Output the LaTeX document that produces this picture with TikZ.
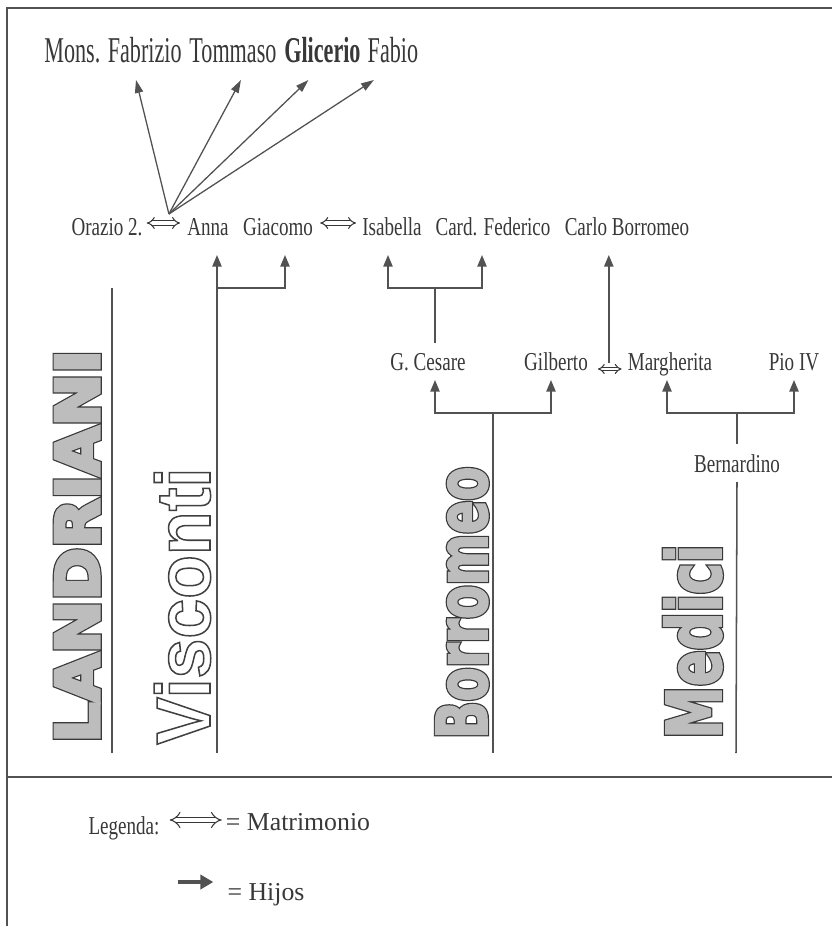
\documentclass[tikz,border=0pt]{standalone}
\usepackage{fontspec}
\setmainfont{Liberation Serif}
\newfontfamily\estrecha[FakeStretch=0.74]{Liberation Serif}
\newfontfamily\estrechaalta[FakeStretch=0.61]{Liberation Serif}
\newfontfamily\famancha[FakeStretch=1.06]{DejaVu Sans}
\newfontfamily\famestrecha[FakeStretch=0.70]{DejaVu Sans}
\newfontfamily\famhueca[FakeStretch=0.93]{Liberation Sans}
\usepackage{tikz}
\usetikzlibrary{arrows,arrows.meta,positioning,calc}

\definecolor{tinta}{gray}{0.22}
\definecolor{trazo}{gray}{0.32}

% letras de las familias: contorno oscuro y relleno gris, o solo contorno
\newcommand{\rayado}[1]{\rlap{\special{pdf:literal direct 0.22 G 3.4 w 1 Tr}#1\special{pdf:literal direct 0 Tr}}%
	\special{pdf:literal direct 0.74 g 0.74 G 1.3 w 2 Tr}#1\special{pdf:literal direct 0 Tr}}
\newcommand{\rayadogrueso}[1]{\rlap{\special{pdf:literal direct 0.22 G 5.0 w 1 Tr}#1\special{pdf:literal direct 0 Tr}}%
	\special{pdf:literal direct 0.74 g 0.74 G 2.9 w 2 Tr}#1\special{pdf:literal direct 0 Tr}}
\newcommand{\hueco}[1]{\special{pdf:literal direct 0.25 G 1.3 w 1 Tr}#1\special{pdf:literal direct 0 Tr}}

\tikzset{
	persona/.style={font=\estrecha\fontsize{22}{24}\selectfont, text=tinta, inner sep=0pt, text depth=0pt, anchor=base, outer ysep=#1},
	persona/.default=3mm,
	arriba/.style={persona=5.4mm, font=\estrechaalta\fontsize{31}{34}\selectfont},
	familia/.style={rotate=90, anchor=base west, inner sep=0pt},
	linea/.style={draw=trazo, line width=1.3pt},
	hijo/.style={linea, -{Triangle[length=10pt,width=8pt]}},
	abanico/.style={draw=trazo, line width=1.1pt, -{Triangle[length=11pt,width=7pt]}},
	boda/.style={draw=tinta, line width=0.9pt, double distance=2.6pt, {Implies}-{Implies}},
	marco/.style={draw=trazo, line width=1.7pt}
}

\begin{document}
\begin{tikzpicture}[x=0.3mm, y=-0.3mm]
	\useasboundingbox (0,0) rectangle (832,926);

	\draw[marco] (7,926) -- (7,8) -- (832,8);
	\draw[marco] (7,777) -- (832,777);

	% hijos de Orazio y Anna
	\node[arriba] (fabrizio) at (113,62) {Mons. Fabrizio};
	\node[arriba, base right=2.2mm of fabrizio] (tommaso) {Tommaso};
	\node[arriba, base right=2.2mm of tommaso] (glicerio) {\bfseries Glicerio};
	\node[arriba, base right=2mm of glicerio] (fabio) {Fabio};

	% primera generacion
	\node[persona=6mm] (orazio) at (107,235) {Orazio 2.};
	\node[persona=6mm] (anna) at (208,235) {Anna};
	\node[persona=6mm] (giacomo) at (278,235) {Giacomo};
	\node[persona=6mm] (isabella) at (392,235) {Isabella};
	\node[persona=6mm] (federico) at (493,235) {Card. Federico};
	\node[persona=6mm] (carlo) at (627,235) {Carlo Borromeo};

	% segunda generacion
	\node[persona] (gcesare) at (428,370) {G. Cesare};
	\node[persona] (gilberto) at (556,370) {Gilberto};
	\node[persona] (margherita) at (670,370) {Margherita};
	\node[persona] (pio) at (794,370) {Pio IV};
	\node[persona] (bernardino) at (737,472) {Bernardino};

	% matrimonios
	\draw[boda] ($(orazio.base east)+(4,-12)$) -- ($(anna.base west)+(-7,-12)$);
	\draw[boda] ($(giacomo.base east)+(7,-12)$) -- ($(isabella.base west)+(-6,-12)$);
	\draw[boda, double distance=2pt] ($(gilberto.base east)+(10,-1)$) -- ($(margherita.base west)+(-6,-1)$);

	\coordinate (fan) at ($(orazio.base east)!0.5!(anna.base west)+(4,-21)$);
	\coordinate (boda3) at ($(gilberto.base east)!0.5!(margherita.base west)+(1,-7)$);

	\draw[abanico] (fan) -- ($(fabrizio.south)+(23,0)$);
	\draw[abanico] (fan) -- ($(tommaso.south)+(8,0)$);
	\draw[abanico] (fan) -- ($(glicerio.south)+(-14,0)$);
	\draw[abanico] (fan) -- ($(fabio.south)+(-19,0)$);

	% lineas de familia
	\coordinate (barV) at (217,288);
	\coordinate (barI) at (435,288);
	\coordinate (barB) at (493,413);
	\coordinate (barM) at (736,413);
	\coordinate (pieL) at (112,753);
	\coordinate (pieV) at (217,753);
	\coordinate (pieB) at (493,753);
	\coordinate (pieM) at (736,753);

	\draw[linea] (pieL) -- (pieL |- barV);
	\draw[hijo] (pieV) -- (pieV |- anna.south);
	\draw[hijo] (barV) -| ($(giacomo.south)+(7,0)$);

	\draw[linea] (barI) -- (barI |- gcesare.north);
	\draw[hijo] (barI) -| ($(isabella.south)+(-4,0)$);
	\draw[hijo] (barI) -| ($(federico.south)+(-11,0)$);
	\draw[hijo] (boda3) -- (boda3 |- carlo.south);

	\draw[linea] (pieB) -- (barB);
	\draw[hijo] (barB) -| ($(gcesare.south)+(7,0)$);
	\draw[hijo] (barB) -| ($(gilberto.south)+(-5,0)$);

	\draw[linea] (pieM) -- (bernardino.south);
	\draw[linea] (bernardino.north) -- (bernardino.north |- barM);
	\draw[hijo] (barM) -| ($(margherita.south)+(-3,0)$);
	\draw[hijo] (barM) -| (pio.south);

	% familias
	\node[familia, font=\famancha\bfseries\fontsize{51}{60}\selectfont] (landriani) at (99,743) {\rayadogrueso{LANDRIANI}};
	\node[familia, font=\famhueca\bfseries\fontsize{65.7}{70}\selectfont] (visconti) at (210,745) {\hueco{Visconti}};
	\node[familia, font=\famestrecha\bfseries\fontsize{60}{70}\selectfont] (borromeo) at (487,739) {\rayado{Borromeo}};
	\node[familia, font=\famestrecha\bfseries\fontsize{64.5}{70}\selectfont] (medici) at (721,739) {\rayado{Medici}};

	% legenda
	\node[persona=0pt] (legenda) at (124,834) {Legenda:};
	\node[persona=0pt, font=\fontsize{22}{24}\selectfont] (matrimonio) at (298,830) {= Matrimonio};
	\node[persona=0pt, font=\fontsize{22}{24}\selectfont] (hijos) at (266,900) {= Hijos};
	\draw[boda, double distance=4pt] ($(legenda.base east)+(10,-14)$) -- ($(matrimonio.base west)+(-4,-10)$);
	\draw[draw=trazo, line width=3.2pt, -{Triangle[length=11pt,width=12pt]}] ($(hijos.base west)+(-49,-18)$) -- ($(hijos.base west)+(-14,-18)$);

\end{tikzpicture}
\end{document}
